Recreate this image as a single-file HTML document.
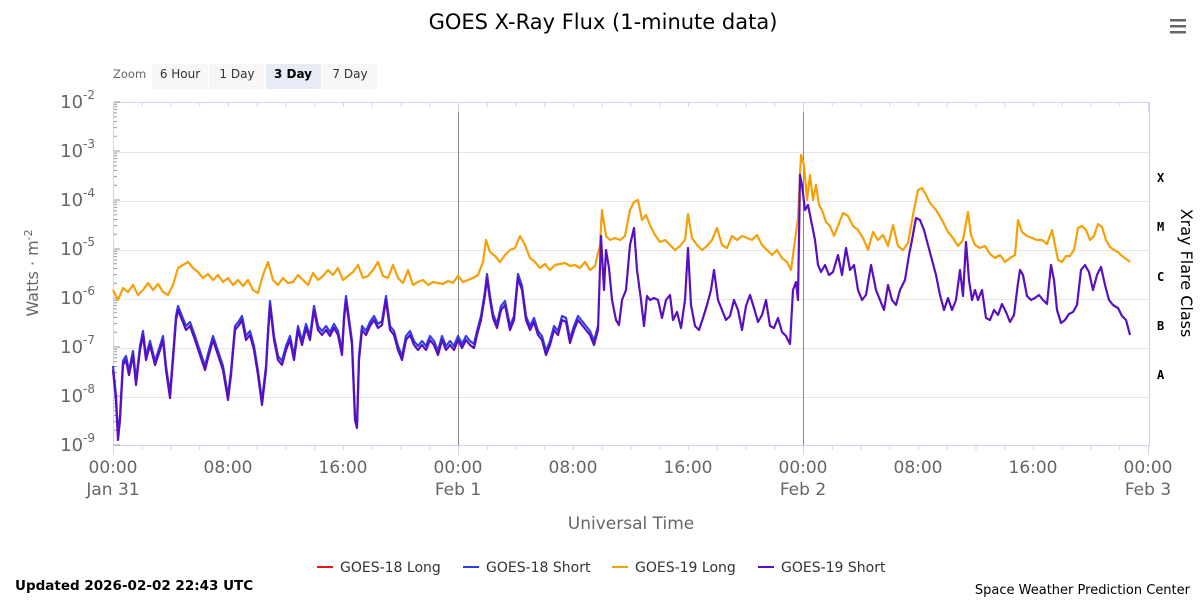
<!DOCTYPE html>
<html><head><meta charset="utf-8"><style>
body{margin:0;background:#fff;}
svg{font-family:"DejaVu Sans","Liberation Sans",sans-serif;display:block}
</style></head><body>
<svg width="1200" height="600" xmlns="http://www.w3.org/2000/svg">
<rect width="1200" height="600" fill="#fff"/>
<text x="603" y="29" text-anchor="middle" font-size="21" fill="#000">GOES X-Ray Flux (1-minute data)</text>
<g fill="#666"><rect x="1170" y="19" width="16" height="2.5"/><rect x="1170" y="25" width="16" height="2.5"/><rect x="1170" y="31" width="16" height="2.5"/></g>
<text x="113" y="78" font-size="11.5" fill="#666">Zoom</text>
<rect x="152" y="64" width="56" height="25" fill="#f7f7f7"/><text x="180" y="78" text-anchor="middle" font-size="12" fill="#333">6 Hour</text>
<rect x="209" y="64" width="55" height="25" fill="#f7f7f7"/><text x="237" y="78" text-anchor="middle" font-size="12" fill="#333">1 Day</text>
<rect x="266" y="64" width="55" height="25" fill="#e6ebf5"/><text x="293" y="78" text-anchor="middle" font-size="12" font-weight="bold" fill="#000">3 Day</text>
<rect x="322" y="64" width="55" height="25" fill="#f7f7f7"/><text x="350" y="78" text-anchor="middle" font-size="12" fill="#333">7 Day</text>
<g stroke="#e6e6e6" stroke-width="1">
<line x1="113" x2="1149" y1="152.5" y2="152.5"/><line x1="113" x2="1149" y1="201.5" y2="201.5"/><line x1="113" x2="1149" y1="250.5" y2="250.5"/><line x1="113" x2="1149" y1="299.5" y2="299.5"/><line x1="113" x2="1149" y1="348.5" y2="348.5"/><line x1="113" x2="1149" y1="397.5" y2="397.5"/>
</g>
<rect x="113.5" y="102.5" width="1036" height="343" fill="none" stroke="#ccd6eb"/>
<line x1="458.5" x2="458.5" y1="110" y2="445" stroke="#888"/>
<line x1="803.5" x2="803.5" y1="110" y2="445" stroke="#888"/>
<g id="ticks" stroke="#ccd6eb"></g>
<g id="lticks" stroke="#999"></g>
<g font-size="18" fill="#666" text-anchor="end" id="ylab"></g>
<text transform="translate(38,273) rotate(-90)" text-anchor="middle" font-size="16" fill="#666">Watts · m<tspan dy="-6" font-size="11">-2</tspan></text>
<g font-family="DejaVu Sans Mono,Liberation Mono,monospace" font-size="12" font-weight="bold" fill="#000">
<text x="1157" y="182">X</text><text x="1157" y="231">M</text><text x="1157" y="281">C</text><text x="1157" y="330">B</text><text x="1157" y="379">A</text></g>
<text transform="translate(1181,273) rotate(90)" text-anchor="middle" font-size="16" fill="#000">Xray Flare Class</text>
<g font-size="17" fill="#666" text-anchor="middle">
<text x="113" y="473">00:00</text><text x="113" y="495">Jan 31</text>
<text x="228" y="473">08:00</text><text x="343" y="473">16:00</text>
<text x="458" y="473">00:00</text><text x="458" y="495">Feb 1</text>
<text x="573" y="473">08:00</text><text x="688" y="473">16:00</text>
<text x="803" y="473">00:00</text><text x="803" y="495">Feb 2</text>
<text x="918" y="473">08:00</text><text x="1033" y="473">16:00</text>
<text x="1148" y="473">00:00</text><text x="1148" y="495">Feb 3</text>
<text x="631" y="529">Universal Time</text></g>
<polyline id="orange" fill="none" stroke="#f5a009" stroke-width="2.2" stroke-linejoin="round" points="113,290 118,300 123,288 128,292 133,285 138,295 143,290 148,283 153,290 158,284 163,292 168,295 173,285 178,268 183,265 188,262 193,268 198,272 203,278 208,274 213,280 218,275 223,282 228,278 233,285 238,280 243,286 248,280 253,290 258,293 263,275 268,262 273,280 278,285 283,278 288,283 293,282 298,275 303,280 308,285 313,273 318,280 323,276 328,270 333,275 338,268 343,280 348,276 353,272 358,265 363,278 368,276 373,270 378,262 383,276 388,278 393,265 398,278 403,283 408,270 413,285 418,282 423,280 428,285 433,282 438,283 443,284 448,281 453,283 458,276 463,282 468,280 473,278 478,275 483,262 486,240 490,252 495,256 500,262 505,255 510,250 515,248 520,236 525,245 530,258 535,262 540,268 545,264 550,270 555,265 560,264 565,263 570,266 575,265 580,268 585,262 590,270 595,266 600,245 602,210 606,236 610,240 615,238 620,240 625,236 630,210 634,202 638,200 642,220 646,215 650,225 655,235 660,242 665,240 670,245 675,250 680,246 685,240 688,214 692,238 697,245 702,250 707,246 712,240 717,228 722,245 727,248 732,236 737,240 742,236 747,238 752,240 757,235 762,245 767,250 772,255 777,250 782,258 787,262 791,270 795,240 798,218 801,155 804,165 807,200 810,175 813,200 816,185 819,205 822,210 826,222 830,226 834,236 838,226 843,213 848,216 853,226 858,230 863,238 868,250 873,232 878,240 883,235 888,246 893,225 898,246 903,250 908,243 913,215 918,190 922,188 926,195 930,203 936,210 942,220 948,232 953,238 958,246 963,240 968,212 971,235 975,245 980,248 985,246 990,254 995,258 1000,255 1005,262 1010,258 1015,255 1018,220 1022,232 1027,236 1032,238 1037,240 1042,240 1047,244 1052,230 1055,245 1058,260 1062,262 1066,256 1070,256 1074,250 1078,228 1082,226 1086,230 1090,240 1094,236 1098,224 1102,227 1106,240 1110,247 1114,250 1118,252 1122,256 1130,262"/>
<polyline id="blue" fill="none" stroke="#2f3fe8" stroke-width="2.2" stroke-linejoin="round"/>
<polyline id="purple" fill="none" stroke="#5a0fbe" stroke-width="2.2" stroke-linejoin="round" points="113,370 116,400 118,440 120,420 123,365 126,360 129,375 133,355 136,385 140,350 143,335 146,360 150,345 155,365 160,350 163,340 166,370 170,398 173,360 176,320 178,310 182,320 186,330 190,326 195,340 200,355 205,370 208,358 213,340 218,355 223,370 228,400 231,375 235,330 239,325 242,320 246,340 250,335 254,350 258,375 262,405 266,370 268,335 270,305 274,340 278,360 282,365 286,350 290,340 294,360 298,330 302,345 306,328 310,340 314,310 318,330 322,335 326,330 330,336 334,328 338,335 342,355 344,320 346,300 350,330 352,345 355,420 357,428 359,360 362,330 366,335 370,326 374,320 378,328 382,325 386,300 390,330 394,335 398,350 402,360 406,340 410,335 414,345 418,350 422,345 426,350 430,340 434,345 438,355 442,340 446,350 450,345 454,350 458,340 462,348 466,340 470,345 474,348 477,335 481,320 485,295 487,278 490,300 493,318 497,328 501,310 505,305 510,330 514,320 518,278 522,290 526,320 530,330 534,322 538,335 542,340 546,355 550,345 554,330 558,335 562,320 566,322 570,343 574,330 578,320 582,325 586,330 590,335 594,345 598,330 601,236 604,290 606,250 609,268 612,300 616,320 619,325 622,300 626,290 630,245 634,228 637,270 641,300 644,326 647,296 650,300 654,298 658,300 662,318 666,300 670,295 673,320 677,312 681,328 685,300 688,248 691,305 695,326 699,330 703,318 707,305 711,290 714,270 718,300 722,310 726,320 730,316 734,300 738,310 742,330 746,306 750,295 754,308 758,322 762,315 766,300 770,326 774,328 778,318 782,332 786,336 790,344 793,290 796,282 798,300 800,175 802,185 805,210 808,205 811,220 815,240 818,265 821,272 825,265 829,275 833,272 838,255 842,275 846,248 850,270 854,265 858,290 862,300 866,295 871,265 876,290 880,300 884,310 888,285 892,300 896,305 900,290 905,280 909,255 912,240 916,218 920,220 924,230 928,245 932,260 936,275 940,295 944,310 948,298 952,310 956,300 960,270 963,296 966,242 969,280 972,300 975,290 978,300 982,290 986,318 990,320 994,310 998,315 1002,304 1006,312 1010,322 1014,315 1018,283 1020,270 1023,275 1027,296 1031,300 1035,298 1039,295 1043,300 1047,304 1051,265 1054,280 1057,310 1061,323 1065,320 1069,314 1073,312 1077,305 1081,270 1085,265 1089,272 1093,290 1097,275 1101,267 1105,285 1109,300 1113,305 1118,308 1122,316 1126,320 1130,335"/>
<g font-size="14" fill="#333">
<line x1="317" x2="333" y1="567" y2="567" stroke="#e8141c" stroke-width="2"/><text x="340" y="572">GOES-18 Long</text>
<line x1="463" x2="479" y1="567" y2="567" stroke="#2f3fe8" stroke-width="2"/><text x="486" y="572">GOES-18 Short</text>
<line x1="612" x2="628" y1="567" y2="567" stroke="#f5a009" stroke-width="2"/><text x="635" y="572">GOES-19 Long</text>
<line x1="758" x2="774" y1="567" y2="567" stroke="#5a0fbe" stroke-width="2"/><text x="781" y="572">GOES-19 Short</text>
</g>
<text x="15" y="590" font-size="13.5" font-weight="bold" fill="#000">Updated 2026-02-02 22:43 UTC</text>
<text x="1190" y="594" text-anchor="end" font-size="13" fill="#000">Space Weather Prediction Center</text>
</svg>
<script>
var ns="http://www.w3.org/2000/svg";
var p=document.getElementById('purple').getAttribute('points').trim().split(/\s+/);
var b=[];p.forEach(function(s){var a=s.split(',').map(Number);if(a[0]<=600)b.push(a[0]+','+(a[1]-4));});
document.getElementById('blue').setAttribute('points',b.join(' '));
var t=document.getElementById('ticks');
for(var h=0;h<=72;h+=2){var x=113.5+h*345/24;var big=(h%24==0);
var l=document.createElementNS(ns,'line');l.setAttribute('x1',x);l.setAttribute('x2',x);l.setAttribute('y1',445);l.setAttribute('y2',big?455:450);t.appendChild(l);
var l2=document.createElementNS(ns,'line');l2.setAttribute('x1',x);l2.setAttribute('x2',x);l2.setAttribute('y1',102);l2.setAttribute('y2',big?112:107);t.appendChild(l2);}
var lt=document.getElementById('lticks');var yl=document.getElementById('ylab');
for(var d=0;d<7;d++){var y0=445-d*49;for(var k=1;k<=10;k++){var y=y0-Math.log10(k)*49;var l=document.createElementNS(ns,'line');l.setAttribute('x1',114);l.setAttribute('x2',k==10||k==1?120:117);l.setAttribute('y1',y);l.setAttribute('y2',y);lt.appendChild(l);}}
for(var e=-9;e<=-2;e++){var y=445-(e+9)*49;var tx=document.createElementNS(ns,'text');tx.setAttribute('x',95);tx.setAttribute('y',y+6);tx.innerHTML='10<tspan dy="-9" font-size="12">'+e+'</tspan>';tx.setAttribute('text-anchor','end');yl.appendChild(tx);}
</script>
</body></html>
